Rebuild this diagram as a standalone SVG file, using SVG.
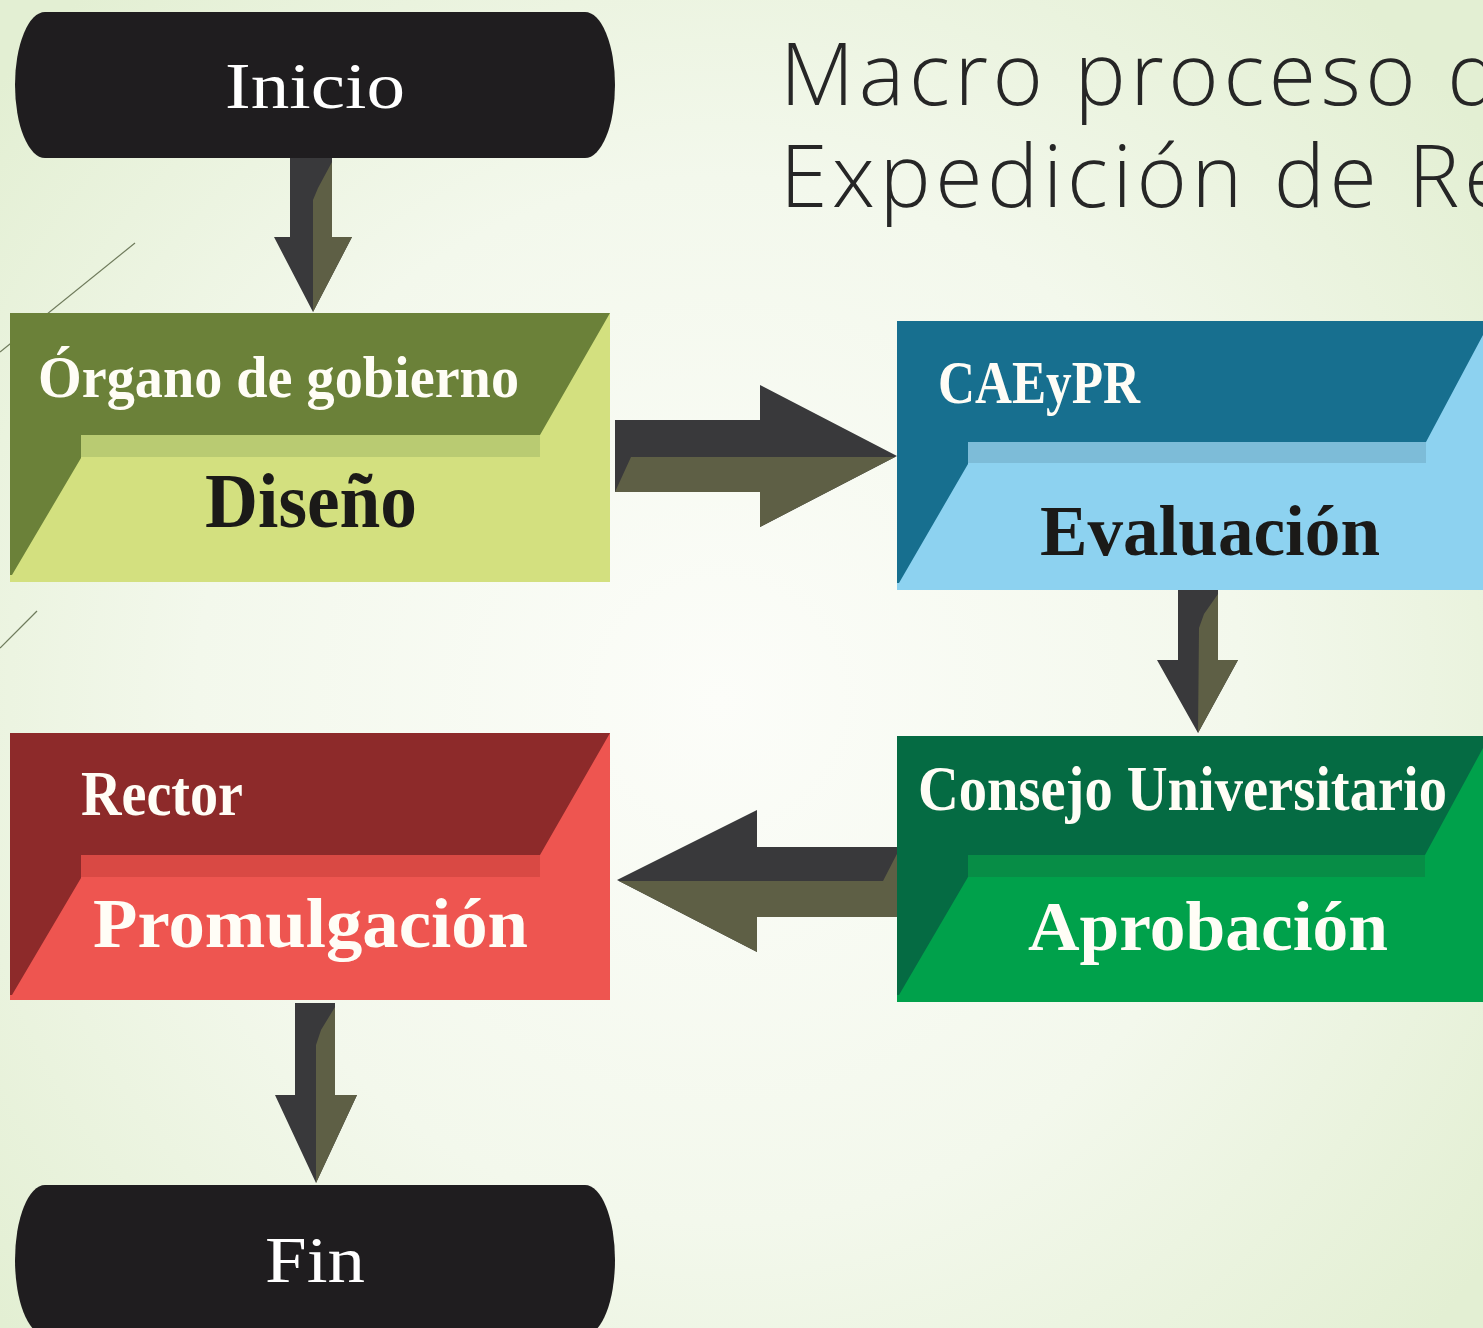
<svg xmlns="http://www.w3.org/2000/svg" width="1483" height="1328" viewBox="0 0 1483 1328">
<defs>
<radialGradient id="bg" cx="720" cy="700" r="950" gradientUnits="userSpaceOnUse">
<stop offset="0" stop-color="#fcfdf9"/>
<stop offset="0.55" stop-color="#f3f8ec"/>
<stop offset="1" stop-color="#e3efd3"/>
</radialGradient>
<style>
.term{fill:#1f1d1f}
.termtxt{font-family:"Liberation Serif","DejaVu Serif",serif;font-size:66px;fill:#ffffff;text-anchor:middle}
.lbl{font-family:"Liberation Serif","DejaVu Serif",serif;font-weight:bold}
.w{fill:#fffdf6}
.k{fill:#1b1a18}
.adark{fill:#39393b}
.aolive{fill:#5e5f45}
.title{font-family:"Open Sans","Liberation Sans",sans-serif;font-weight:300;font-size:86px;fill:#262626;letter-spacing:4.6px}
.deco{stroke:#6f7b5c;stroke-width:1.2;fill:none}
</style>
</defs>
<rect width="1483" height="1328" fill="url(#bg)"/>
<line class="deco" x1="0" y1="352" x2="135" y2="243"/>
<line class="deco" x1="0" y1="648" x2="37" y2="611"/>

<g id="title">
<text class="title" x="780" y="105">Macro proceso de</text>
<text class="title" x="780" y="207">Expedición de Re</text>
</g>

<g id="connectors">
<g>
<polygon class="adark" points="290,158 332,158 332,237 352,237 313,312 274,237 290,237"/>
<polygon class="aolive" points="332,162 332,237 352,237 313,312 313,200 318,188"/>
</g>
<g>
<polygon class="adark" points="615,420 760,420 760,385 897,456 760,527 760,492 615,492"/>
<polygon class="aolive" points="615,492 631,457 895,457 760,527 760,492"/>
</g>
<g>
<polygon class="adark" points="1178,590 1218,590 1218,660 1238,660 1198,733 1157,660 1178,660"/>
<polygon class="aolive" points="1218,594 1218,660 1238,660 1198,733 1199,628 1204,614"/>
</g>
<g>
<polygon class="adark" points="898,847 757,847 757,810 617,880 757,952 757,917 898,917"/>
<polygon class="aolive" points="619,881 883,881 899,850 899,917 757,917 757,952"/>
</g>
<g>
<polygon class="adark" points="295,1003 335,1003 335,1095 357,1095 316,1183 275,1095 295,1095"/>
<polygon class="aolive" points="335,1007 335,1095 357,1095 316,1183 316,1045 321,1030"/>
</g>
</g>

<g id="inicio">
<path class="term" d="M45,12 H585 A30,73 0 0 1 585,158 H45 A30,73 0 0 1 45,12 Z"/>
<text class="termtxt" x="315" y="108" textLength="180" lengthAdjust="spacingAndGlyphs">Inicio</text>
</g>

<g id="diseno">
<rect x="10" y="313" width="600" height="269" fill="#d3e07f"/>
<polygon points="10,313 610,313 540,435 81,435 81,458 12,575 10,575" fill="#6b8139"/>
<polygon points="81,435 540,435 540,457 81,457" fill="#b9cb72"/>
<text class="lbl w" x="38" y="397" font-size="60" textLength="481" lengthAdjust="spacingAndGlyphs">Órgano de gobierno</text>
<text class="lbl k" x="205" y="527" font-size="78" textLength="212" lengthAdjust="spacingAndGlyphs">Diseño</text>
</g>

<g id="evaluacion">
<rect x="897" y="321" width="586" height="269" fill="#8dd2f0"/>
<polygon points="897,321 1483,321 1483,335 1426,442 968,442 968,464 899,583 897,583" fill="#176f8f"/>
<polygon points="968,442 1426,442 1426,463 968,463" fill="#7dbcd8"/>
<text class="lbl w" x="938" y="403" font-size="62" textLength="202" lengthAdjust="spacingAndGlyphs">CAEyPR</text>
<text class="lbl k" x="1040" y="555" font-size="72" textLength="340" lengthAdjust="spacingAndGlyphs">Evaluación</text>
</g>

<g id="aprobacion">
<rect x="897" y="736" width="586" height="266" fill="#00a14b"/>
<polygon points="897,736 1483,736 1483,748 1425,855 968,855 968,877 899,995 897,995" fill="#056b43"/>
<polygon points="968,855 1425,855 1425,877 968,877" fill="#078d46"/>
<text class="lbl w" x="918" y="810" font-size="64" textLength="529" lengthAdjust="spacingAndGlyphs">Consejo Universitario</text>
<text class="lbl w" x="1028" y="950" font-size="70" textLength="360" lengthAdjust="spacingAndGlyphs">Aprobación</text>
</g>

<g id="promulgacion">
<rect x="10" y="733" width="600" height="267" fill="#ee5550"/>
<polygon points="10,733 610,733 540,855 81,855 81,878 12,995 10,995" fill="#8d2a2a"/>
<polygon points="81,855 540,855 540,877 81,877" fill="#d94944"/>
<text class="lbl w" x="81" y="815" font-size="64" textLength="162" lengthAdjust="spacingAndGlyphs">Rector</text>
<text class="lbl w" x="93" y="947" font-size="70" textLength="435" lengthAdjust="spacingAndGlyphs">Promulgación</text>
</g>

<g id="fin">
<path class="term" d="M45,1185 H585 A30,75 0 0 1 585,1335 H45 A30,75 0 0 1 45,1185 Z"/>
<text class="termtxt" x="315" y="1282" textLength="100" lengthAdjust="spacingAndGlyphs">Fin</text>
</g>
</svg>
